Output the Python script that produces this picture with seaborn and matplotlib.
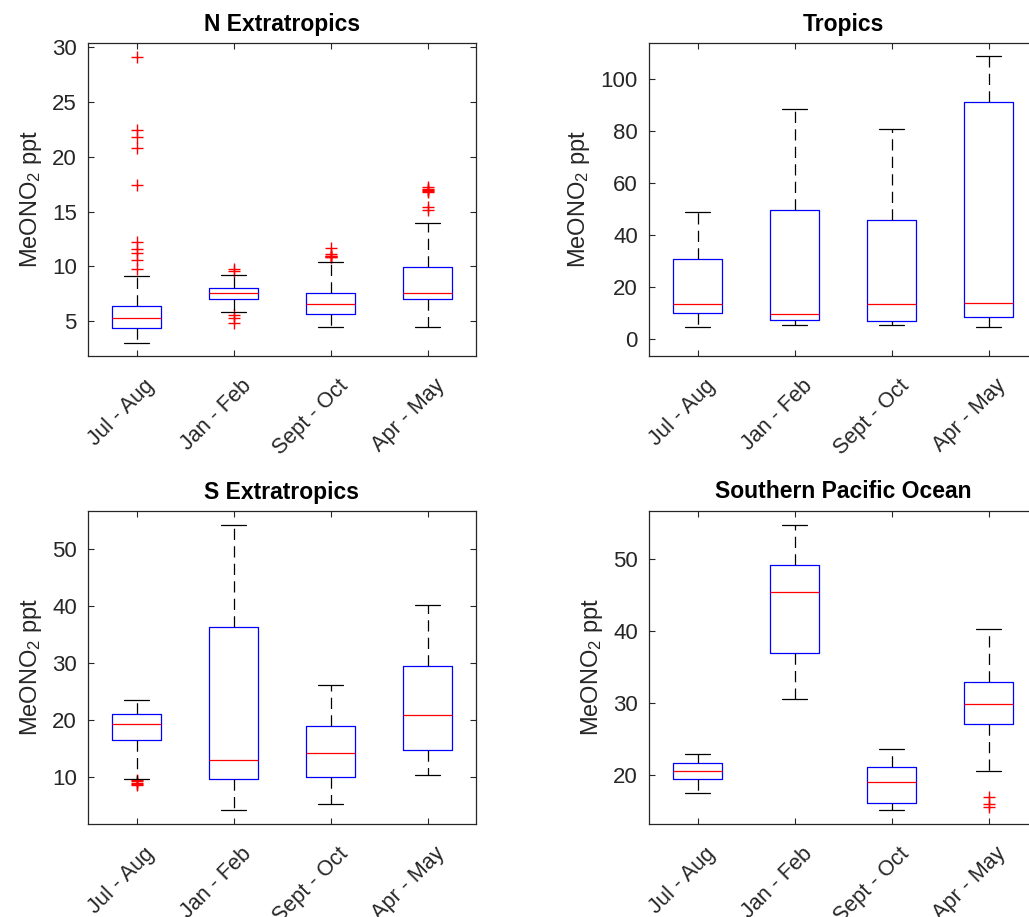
import numpy as np
import pandas as pd
import matplotlib
matplotlib.use("Agg")
import matplotlib.pyplot as plt
import matplotlib.transforms as mtransforms
import seaborn as sns

sns.set_theme(style="ticks")
plt.rcParams['font.family'] = ['Liberation Sans', 'DejaVu Sans']
plt.rcParams['mathtext.default'] = 'regular'

seasons = ["Jul - Aug", "Jan - Feb", "Sept - Oct", "Apr - May"]
regions = ["N Extratropics", "Tropics", "S Extratropics", "Southern Pacific Ocean"]

# five-number summaries per region: [lower whisker, q1, median, q3, upper whisker]
n_extra = [[3.03, 4.42, 5.27, 6.43, 9.1],
           [5.88, 7.06, 7.55, 8.0, 9.25],
           [4.45, 5.64, 6.58, 7.61, 10.45],
           [4.45, 7.0, 7.61, 9.92, 13.92]]
tropics = [[4.7, 10.2, 13.4, 30.7, 48.8],
           [5.4, 7.4, 9.8, 49.6, 88.6],
           [5.5, 6.9, 13.6, 45.9, 80.9],
           [4.7, 8.7, 13.8, 91.0, 108.7]]
s_extra = [[9.8, 16.6, 19.4, 21.1, 23.5],
           [4.3, 9.8, 13.1, 36.4, 54.3],
           [5.3, 10.0, 14.3, 19.1, 26.2],
           [10.5, 14.8, 20.9, 29.6, 40.3]]
s_pacific = [[17.47, 19.4, 20.55, 21.6, 22.86],
             [30.55, 36.9, 45.3, 49.1, 54.7],
             [15.2, 16.1, 19.0, 21.1, 23.6],
             [20.6, 27.1, 29.9, 32.9, 40.3]]

# outliers per region / season
n_extra_out = [[29.1, 22.4, 21.8, 20.75, 17.4, 12.2, 11.6, 11.2, 10.6, 9.8],
               [9.75, 9.55, 5.57, 5.27, 4.87],
               [11.65, 11.1, 11.0, 10.95, 10.9, 10.85],
               [17.2, 17.05, 16.95, 16.85, 16.75, 15.45, 15.15]]
tropics_out = [[], [], [], []]
s_extra_out = [[9.5, 9.3, 9.1, 8.9, 8.75], [], [], []]
s_pacific_out = [[], [], [], [16.9, 16.0, 15.6]]

y_ticks = [[5, 10, 15, 20, 25, 30],
           [0, 20, 40, 60, 80, 100],
           [10, 20, 30, 40, 50],
           [20, 30, 40, 50]]
y_lims = [(1.85, 30.35), (-6.4, 113.8), (1.85, 56.7), (13.2, 56.6)]

summaries = [n_extra, tropics, s_extra, s_pacific]
outliers = [n_extra_out, tropics_out, s_extra_out, s_pacific_out]

W, H = 1029, 917
fig = plt.figure(figsize=(W / 100, H / 100), dpi=100)
axpos = [(88, 43), (649, 43), (88, 511), (649, 511)]
aw, ah = 388, 313

axis_col = (0.15, 0.15, 0.15)

for i in range(4):
    x0, y0 = axpos[i]
    ax = fig.add_axes([x0 / W, 1 - (y0 + ah) / H, aw / W, ah / H])
    stats = []
    for j, s in enumerate(summaries[i]):
        stats.append(dict(whislo=s[0], q1=s[1], med=s[2], q3=s[3], whishi=s[4],
                          fliers=[], label=seasons[j]))
    ax.bxp(stats, positions=[1, 2, 3, 4], widths=0.5, showfliers=False,
           boxprops=dict(color=(0, 0, 1), linewidth=0.9),
           medianprops=dict(color=(1, 0, 0), linewidth=0.9),
           whiskerprops=dict(color='black', linewidth=0.9, linestyle=(0, (9, 5))),
           capprops=dict(color='black', linewidth=0.9),
           capwidths=0.25)
    fx, fy = [], []
    for j, o in enumerate(outliers[i]):
        fx += [j + 1] * len(o)
        fy += list(o)
    if fx:
        df = pd.DataFrame({"pos": fx, "val": fy})
        sns.scatterplot(data=df, x="pos", y="val", marker="+", color="red",
                        s=85, linewidth=1.0, ax=ax, legend=False)
    ax.set_xlim(0.5, 4.5)
    ax.set_ylim(*y_lims[i])
    ax.set_yticks(y_ticks[i])
    ax.set_xticks([1, 2, 3, 4])
    ax.set_xticklabels(seasons)
    ax.set_xlabel("")
    ax.set_ylabel(r"MeONO$_2$ ppt", fontsize=17, color=axis_col, labelpad=6)
    ax.set_title(regions[i], fontsize=16.5, fontweight='bold', color='black', pad=9)
    for sp in ax.spines.values():
        sp.set_color(axis_col)
        sp.set_linewidth(0.9)
        sp.set_visible(True)
    ax.tick_params(axis='both', which='major', direction='in', length=4, width=0.8,
                   color=axis_col, labelcolor=axis_col,
                   top=True, right=True)
    ax.tick_params(axis='y', pad=8, labelsize=16)
    ax.tick_params(axis='x', pad=14, labelsize=15.5)
    off = mtransforms.ScaledTranslation(0.07, 0, fig.dpi_scale_trans)
    for lab in ax.get_xticklabels():
        lab.set_rotation(45)
        lab.set_ha('right')
        lab.set_va('top')
        lab.set_rotation_mode('anchor')
        lab.set_transform(lab.get_transform() + off)
    ax.set_facecolor('white')

fig.savefig("out.png", dpi=100, facecolor='white')
